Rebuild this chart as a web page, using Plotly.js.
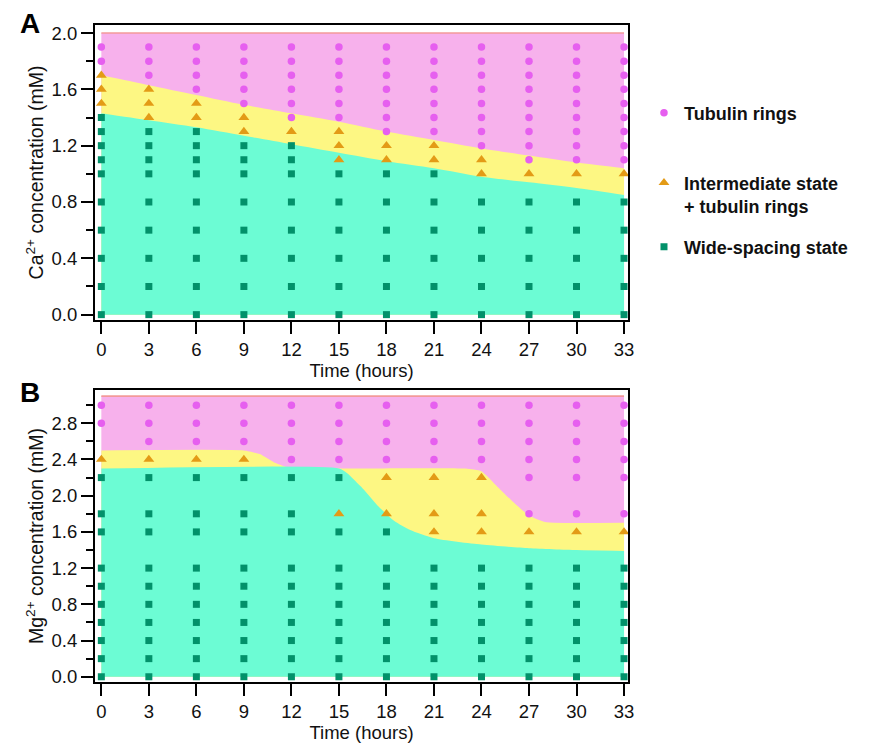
<!DOCTYPE html>
<html>
<head>
<meta charset="utf-8">
<script src="https://cdn.plot.ly/plotly-3.0.1.min.js"></script>
<style>html,body{margin:0;padding:0;background:#fff;}#chart{width:877px;height:748px;}</style>
</head>
<body>
<div id="chart"></div>
<script>
// ---------- DATA ----------
const timeH = [0, 3, 6, 9, 12, 15, 18, 21, 24, 27, 30, 33];
const timeTicks = ["0","3","6","9","12","15","18","21","24","27","30","33"];

// Panel A: Ca2+ levels sampled (mM)
const caLevels = [0, 0.2, 0.4, 0.6, 0.8, 1.0, 1.1, 1.2, 1.3, 1.4, 1.5, 1.6, 1.7, 1.8, 1.9];
// state per time column, one char per level (S = wide-spacing, T = intermediate, C = rings)
const caStates = [
  "SSSSSSSSSSTTTCC", // 0
  "SSSSSSSSSTTTCCC", // 3
  "SSSSSSSSSTTCCCC", // 6
  "SSSSSSSSTTCCCCC", // 9
  "SSSSSSSSTCCCCCC", // 12
  "SSSSSSTTTCCCCCC", // 15
  "SSSSSSTTCCCCCCC", // 18
  "SSSSSSTTCCCCCCC", // 21
  "SSSSSTTCCCCCCCC", // 24
  "SSSSSTCCCCCCCCC", // 27
  "SSSSSTCCCCCCCCC", // 30
  "SSSSSTCCCCCCCCC"  // 33
];
// Panel A region boundaries
const caTopX = [0, 33];
const caTopY = [2.0, 2.0];
const caYellowTop = [1.70, 1.63, 1.56, 1.49, 1.43, 1.37, 1.30, 1.24, 1.18, 1.13, 1.08, 1.04];
const caGreenTop  = [1.43, 1.38, 1.33, 1.27, 1.21, 1.15, 1.09, 1.04, 0.98, 0.94, 0.90, 0.85];

// Panel B: Mg2+ levels sampled (mM)
const mgLevels = [0, 0.2, 0.4, 0.6, 0.8, 1.0, 1.2, 1.6, 1.8, 2.2, 2.4, 2.6, 2.8, 3.0];
const mgStates = [
  "SSSSSSSSSST.CC", // 0
  "SSSSSSSSSSTCCC", // 3
  "SSSSSSSSSSTCCC", // 6
  "SSSSSSSSSSTCCC", // 9
  "SSSSSSSSSSCCCC", // 12
  "SSSSSSSSTSCCCC", // 15
  "SSSSSSSSTTCCCC", // 18
  "SSSSSSSTTTCCCC", // 21
  "SSSSSSSTTTCCCC", // 24
  "SSSSSSSTCCCCCC", // 27
  "SSSSSSSTCCCCCC", // 30
  "SSSSSSSTCCCCCC"  // 33
];
// Panel B region boundaries
const mgTopX = [0, 33];
const mgTopY = [3.1, 3.1];
const mgYellowX = [0, 9, 10, 11, 12, 15, 23, 24, 25, 26, 27, 28, 33];
const mgYellowTop = [2.5, 2.5, 2.46, 2.36, 2.3, 2.3, 2.3, 2.27, 2.1, 1.93, 1.78, 1.71, 1.70];
const mgGreenX = [0, 15, 15.5, 16.5, 17.5, 18.5, 19.5, 21, 24, 27, 30, 33];
const mgGreenTop = [2.3, 2.3, 2.25, 2.08, 1.88, 1.72, 1.62, 1.53, 1.46, 1.42, 1.40, 1.39];

const stateNames = {
  C: "<b>Tubulin rings</b>",
  T: "<b>Intermediate state</b><br><b>+ tubulin rings</b>",
  S: "<b>Wide-spacing state</b>"
};

// ---------- STYLE ----------
const FONT = "Liberation Sans, Arial, Helvetica, sans-serif";
const pinkFill = "#F7B1EC", salmon = "#F39A9A";
const yellowFill = "#FDF783";
const greenFill = "#6CFCD4";
const markerStyle = {
  C: {symbol: "circle", size: 7.5, color: "#E65FEF"},
  T: {symbol: "triangle-up", size: 9.5, color: "#E39B16"},
  S: {symbol: "square", size: 7, color: "#02916A"}
};
const legendIds = {C: "legend", T: "legend2", S: "legend3"};

function pointsFor(states, levels, code) {
  const xs = [], ys = [];
  states.forEach((col, i) => {
    for (let j = 0; j < col.length; j++) {
      if (col[j] === code) { xs.push(timeH[i]); ys.push(levels[j]); }
    }
  });
  return {xs, ys};
}

function fillTrace(x, y, color, xa, ya, lineColor, smooth) {
  return {
    x, y, xaxis: xa, yaxis: ya, type: "scatter", mode: "lines",
    fill: "tozeroy", fillcolor: color,
    line: lineColor ? {color: lineColor, width: 1.6} : {width: 0, shape: smooth ? "spline" : "linear", smoothing: smooth || 0},
    hoverinfo: "skip", showlegend: false
  };
}

const traces = [
  fillTrace(caTopX, caTopY, pinkFill, "x", "y", salmon),
  fillTrace(timeH, caYellowTop, yellowFill, "x", "y", null, 0.8),
  fillTrace(timeH, caGreenTop, greenFill, "x", "y", null, 0.8),
  fillTrace(mgTopX, mgTopY, pinkFill, "x2", "y2", salmon),
  fillTrace(mgYellowX, mgYellowTop, yellowFill, "x2", "y2", null, 0.45),
  fillTrace(mgGreenX, mgGreenTop, greenFill, "x2", "y2", null, 0.6)
];

["C", "T", "S"].forEach(code => {
  const a = pointsFor(caStates, caLevels, code);
  traces.push({
    x: a.xs, y: a.ys, xaxis: "x", yaxis: "y", type: "scatter", mode: "markers",
    name: stateNames[code], legend: legendIds[code], showlegend: true,
    marker: {symbol: markerStyle[code].symbol, size: markerStyle[code].size, color: markerStyle[code].color, line: {width: 0}},
    cliponaxis: false
  });
  const b = pointsFor(mgStates, mgLevels, code);
  traces.push({
    x: b.xs, y: b.ys, xaxis: "x2", yaxis: "y2", type: "scatter", mode: "markers",
    name: stateNames[code], showlegend: false,
    marker: {symbol: markerStyle[code].symbol, size: markerStyle[code].size, color: markerStyle[code].color, line: {width: 0}},
    cliponaxis: false
  });
});

const FS = 18.5;
const tickFont = {family: FONT, size: FS, color: "#111"};
function xAxis(anchor, titleText) {
  return {
    anchor, range: [-0.4, 33.25], tickvals: timeH, ticktext: timeTicks,
    ticks: "outside", ticklen: 12, tickwidth: 2, tickcolor: "#000",
    showline: true, mirror: true, linewidth: 2, linecolor: "#000",
    showgrid: false, zeroline: false, tickfont: tickFont,
    title: {text: titleText, font: {family: FONT, size: FS, color: "#111"}, standoff: 0},
    automargin: false
  };
}
function yAxis(anchor, domain, range, titleText, tickvals) {
  return {
    anchor, domain, range, tickvals, ticktext: tickvals.map(v => v.toFixed(1)),
    ticks: "outside", ticklen: 12, tickwidth: 2, tickcolor: "#000",
    minor: {dtick: 0.2, ticks: "outside", ticklen: 7, tickwidth: 2, tickcolor: "#000", showgrid: false},
    showline: true, mirror: true, linewidth: 2, linecolor: "#000",
    showgrid: false, zeroline: false, tickfont: tickFont,
    title: {text: titleText, font: {family: FONT, size: 19.5, color: "#111"}, standoff: 3},
    automargin: false
  };
}

const legendBase = {
  xanchor: "left", yanchor: "middle", bgcolor: "rgba(0,0,0,0)",
  font: {family: FONT, size: 18, color: "#111"}, valign: "top",
  itemclick: false, itemdoubleclick: false
};

const layout = {
  width: 877, height: 748,
  margin: {l: 95, r: 249, t: 25, b: 66},
  paper_bgcolor: "#fff", plot_bgcolor: "#fff",
  font: {family: FONT, size: FS, color: "#111"},
  xaxis: xAxis("y", "Time (hours)"),
  yaxis: yAxis("x", [0.551, 1], [-0.038, 2.057], "Ca<sup>2+</sup> concentration (mM)", [0, 0.4, 0.8, 1.2, 1.6, 2.0]),
  xaxis2: xAxis("y2", "Time (hours)"),
  yaxis2: yAxis("x2", [0, 0.4445], [-0.058, 3.168], "Mg<sup>2+</sup> concentration (mM)", [0, 0.4, 0.8, 1.2, 1.6, 2.0, 2.4, 2.8]),
  legend: Object.assign({}, legendBase, {x: 1.03, y: 0.866}),
  legend2: Object.assign({}, legendBase, {x: 1.03, y: 0.742}),
  legend3: Object.assign({}, legendBase, {x: 1.03, y: 0.662}),
  annotations: [
    {text: "<b>A</b>", xref: "paper", yref: "paper", x: -0.122, y: 1.002, xanchor: "center", yanchor: "middle", showarrow: false, font: {family: FONT, size: 28, color: "#000"}},
    {text: "<b>B</b>", xref: "paper", yref: "paper", x: -0.122, y: 0.441, xanchor: "center", yanchor: "middle", showarrow: false, font: {family: FONT, size: 28, color: "#000"}}
  ]
};

Plotly.newPlot("chart", traces, layout, {displayModeBar: false, staticPlot: true});
</script>
</body>
</html>
